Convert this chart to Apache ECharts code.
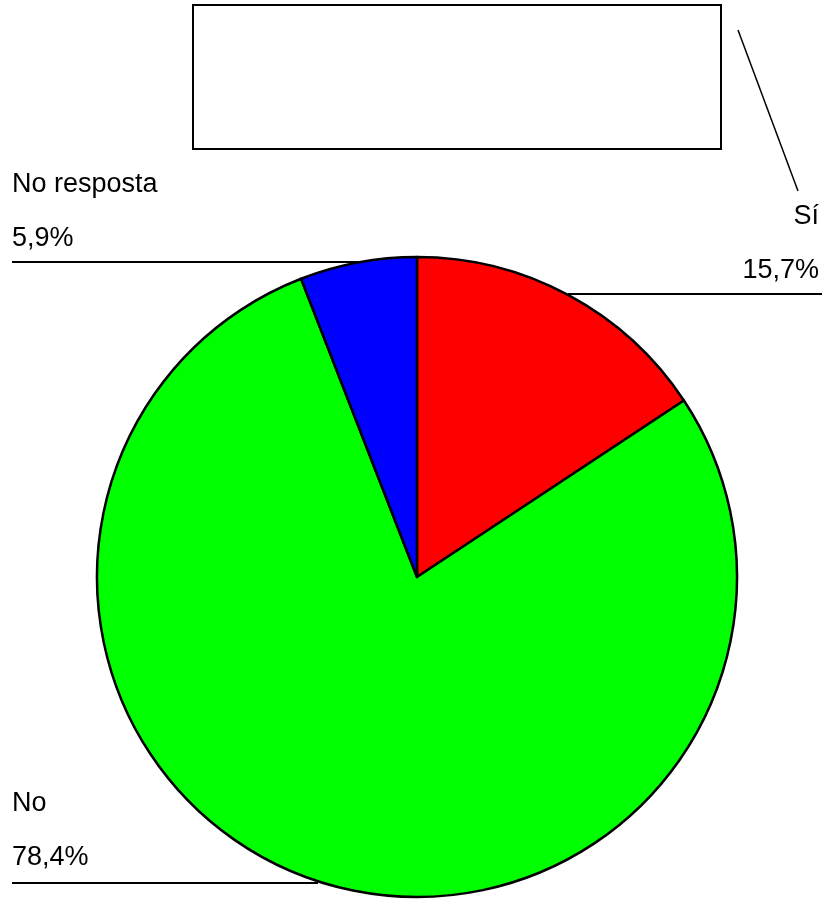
<!DOCTYPE html>
<html>
<head>
<meta charset="utf-8">
<script src="https://cdn.jsdelivr.net/npm/echarts@6/dist/echarts.min.js"></script>
<style>html,body{margin:0;padding:0;background:#fff}#c{width:827px;height:899px}</style>
</head>
<body>
<div id="c"></div>
<script>
const categories = ['Sí', 'No', 'No resposta'];
const values = [15.7, 78.4, 5.9];
const colors = ['#ff0000', '#00ff00', '#0000ff'];

// label placement (layout only)
const labelLayouts = [
  { x: 819, y: 190, align: 'right', lineY: 294, x1: 568, x2: 822 },
  { x: 12,  y: 777, align: 'left',  lineY: 883, x1: 318, x2: 12 },
  { x: 12,  y: 158, align: 'left',  lineY: 262, x1: 415, x2: 12 }
];

const chart = echarts.init(document.getElementById('c'));
chart.setOption({
  animation: false,
  backgroundColor: '#ffffff',
  graphic: [
    { type: 'rect', shape: { x: 193, y: 5, width: 528, height: 144 },
      style: { fill: '#ffffff', stroke: '#000000', lineWidth: 2 } },
    { type: 'line', shape: { x1: 738, y1: 30, x2: 798, y2: 191 },
      style: { stroke: '#000000', lineWidth: 1.5 } }
  ],
  series: [{
    type: 'pie',
    center: [417, 577],
    radius: [0, 320],
    startAngle: 90,
    clockwise: true,
    data: categories.map((c, i) => ({ name: c, value: values[i], itemStyle: { color: colors[i] } })),
    itemStyle: { borderColor: '#000000', borderWidth: 2.5 },
    emphasis: { disabled: true },
    label: {
      show: true,
      position: 'outside',
      color: '#000000',
      fontFamily: '"Liberation Sans", Arial, sans-serif',
      fontSize: 27,
      lineHeight: 54,
      formatter: p => p.name + '\n' + values[p.dataIndex].toFixed(1).replace('.', ',') + '%'
    },
    labelLine: { show: true, smooth: false, lineStyle: { color: '#000000', width: 2 } },
    labelLayout: function (params) {
      const L = labelLayouts[params.dataIndex];
      return {
        x: L.x, y: L.y, align: L.align, verticalAlign: 'top',
        labelLinePoints: [[L.x1, L.lineY], [L.x1, L.lineY], [L.x2, L.lineY]]
      };
    }
  }]
});
</script>
</body>
</html>
